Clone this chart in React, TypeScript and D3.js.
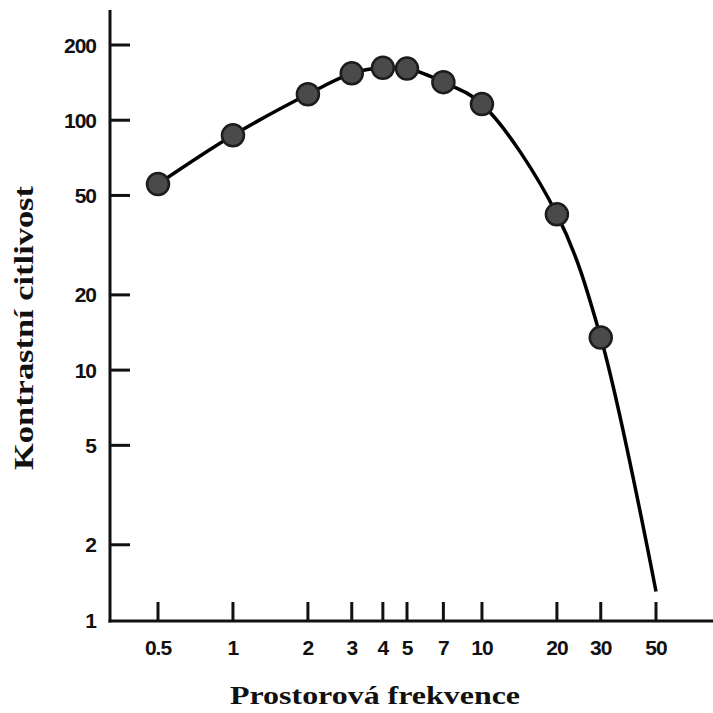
import React from "react";
import * as d3 from "d3";

// measured points (spatial frequency, contrast sensitivity)
const frequencies = [0.5, 1, 2, 3, 4, 5, 7, 10, 20, 30];
const sensitivity = [55.5, 87, 127, 154, 162, 161, 142, 116, 42, 13.5];

// fitted curve runs on past the last dot down to the axis
const curveEndFreq = 50;
const curveEndValue = 1.3;

const xTicks = [0.5, 1, 2, 3, 4, 5, 7, 10, 20, 30, 50];
const yTicks = [1, 2, 5, 10, 20, 50, 100, 200];

const xTitle = "Prostorová frekvence";
const yTitle = "Kontrastní citlivost";

const W = 713;
const H = 713;
const axisX = 110;
const axisY = 621;

export default function App() {
  const x = d3.scaleLog().domain([0.5, 50]).range([158, 656]);
  const y = d3.scaleLog().domain([1, 200]).range([620, 45]);

  const points = frequencies.map((f, i) => [f, sensitivity[i]] as [number, number]);
  const curvePts = [...points, [curveEndFreq, curveEndValue] as [number, number]];

  const line = d3
    .line<[number, number]>()
    .x((d) => x(d[0]))
    .y((d) => y(d[1]))
    .curve(d3.curveCatmullRom.alpha(0.5));

  const tickFont = "'Liberation Sans', Arial, sans-serif";
  const titleFont = "'Liberation Serif', 'Times New Roman', serif";

  return (
    <svg
      width={W}
      height={H}
      style={{ position: "absolute", left: 0, top: 0, display: "block", background: "#fff" }}
    >
      {/* axes */}
      <line x1={axisX} y1={10} x2={axisX} y2={axisY + 1.5} stroke="#111" strokeWidth={3} />
      <line x1={axisX - 1.5} y1={axisY} x2={W} y2={axisY} stroke="#111" strokeWidth={3} />

      {yTicks.map((t) => (
        <g key={"y" + t}>
          {t !== 1 && (
            <line x1={axisX} x2={axisX + 20} y1={y(t)} y2={y(t)} stroke="#111" strokeWidth={3} />
          )}
          <text
            x={96}
            y={y(t)}
            dy="0.36em"
            textAnchor="end"
            fontFamily={tickFont}
            fontWeight="bold"
            fontSize={21}
            letterSpacing={-1}
            fill="#111"
          >
            {t}
          </text>
        </g>
      ))}

      {xTicks.map((t) => (
        <g key={"x" + t}>
          <line x1={x(t)} x2={x(t)} y1={axisY} y2={axisY - 19} stroke="#111" strokeWidth={3} />
          <text
            x={x(t)}
            y={655}
            textAnchor="middle"
            fontFamily={tickFont}
            fontWeight="bold"
            fontSize={21}
            letterSpacing={-1}
            fill="#111"
          >
            {t}
          </text>
        </g>
      ))}

      {/* curve and dots */}
      <path d={line(curvePts) || ""} fill="none" stroke="#000" strokeWidth={3.5} />
      {points.map((p, i) => (
        <circle
          key={i}
          cx={x(p[0])}
          cy={y(p[1])}
          r={11}
          fill="#4a4a4a"
          stroke="#1c1c1c"
          strokeWidth={2.5}
        />
      ))}

      <text
        x={375}
        y={704}
        textAnchor="middle"
        fontFamily={titleFont}
        fontWeight="bold"
        fontSize={26}
        textLength={290}
        lengthAdjust="spacingAndGlyphs"
        fill="#111"
      >
        {xTitle}
      </text>
      <text
        transform={`translate(33,328) rotate(-90)`}
        textAnchor="middle"
        fontFamily={titleFont}
        fontWeight="bold"
        fontSize={27}
        textLength={284}
        lengthAdjust="spacingAndGlyphs"
        fill="#111"
      >
        {yTitle}
      </text>
    </svg>
  );
}
